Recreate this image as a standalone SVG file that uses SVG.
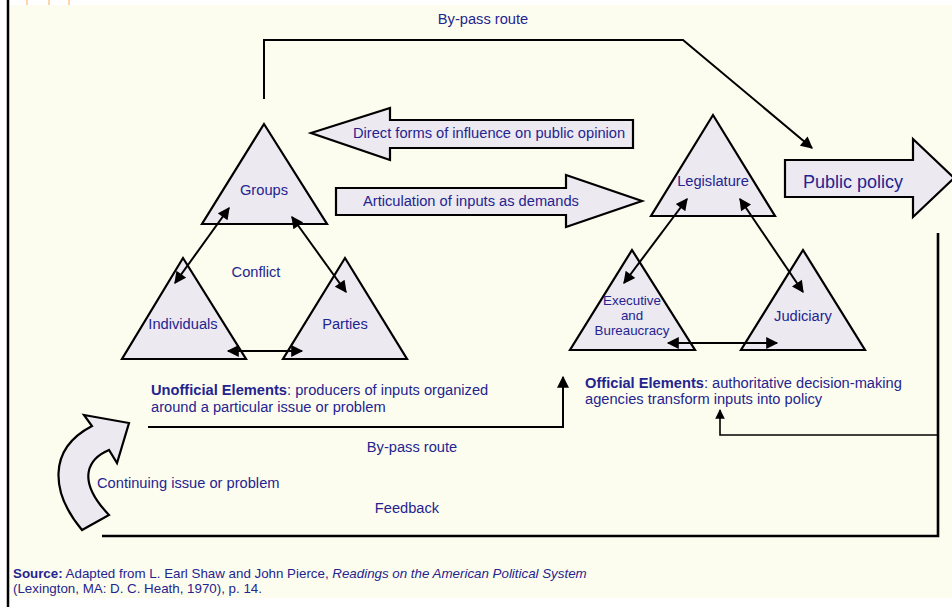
<svg xmlns="http://www.w3.org/2000/svg" width="952" height="607" viewBox="0 0 952 607">
  <defs>
    <style>
      .bg { fill: #FDFDEF; }
      .shape { fill: #ECE9F1; stroke: #000; stroke-width: 2.2; stroke-linejoin: miter; }
      .lbl { font-family: "Liberation Sans", Arial, sans-serif; font-size: 14.67px; fill: #24248F; }
      .mid { text-anchor: middle; }
      .small { font-size: 13.33px; }
      .src { font-family: "Liberation Sans", Arial, sans-serif; font-size: 13.33px; fill: #24248F; }
      .line { fill: none; stroke: #000; stroke-width: 2; }
      .thick { stroke-width: 2.6; }
      .thin { stroke-width: 1.6; }
    </style>
    <marker id="ah" viewBox="0 0 10 10" refX="9" refY="5" markerWidth="6.5" markerHeight="6" orient="auto-start-reverse" markerUnits="strokeWidth">
      <path d="M0,0 L10,5 L0,10 Z" fill="#000"/>
    </marker>
  </defs>

  <!-- page -->
  <rect x="0" y="0" width="952" height="607" fill="#FFFFFF"/>
  <rect class="bg" x="9" y="5" width="943" height="593"/>
  <line x1="27" y1="0" x2="27" y2="5" stroke="#FFC78F" stroke-width="1.5"/>
  <line x1="49" y1="0" x2="49" y2="5" stroke="#FFC78F" stroke-width="1.5"/>
  <line x1="69" y1="0" x2="69" y2="5" stroke="#FFC78F" stroke-width="1.5"/>
  <line x1="8" y1="0" x2="8" y2="607" stroke="#000" stroke-width="2.5"/>

  <!-- unofficial elements -->
  <g id="groups">
    <polygon class="shape" points="264,124 327,224 202,224"/>
    <text class="lbl mid" x="264" y="195">Groups</text>
  </g>
  <g id="individuals">
    <polygon class="shape" points="183,258 246,359 122,359"/>
    <text class="lbl mid" x="183" y="329">Individuals</text>
  </g>
  <g id="parties">
    <polygon class="shape" points="345,258 407,359 283,359"/>
    <text class="lbl mid" x="345" y="329">Parties</text>
  </g>
  <g id="conflict">
    <text class="lbl mid" x="256" y="277">Conflict</text>
  </g>

  <!-- official elements -->
  <g id="legislature">
    <polygon class="shape" points="713,115 775,216 651,216"/>
    <text class="lbl mid" x="713" y="186">Legislature</text>
  </g>
  <g id="executive">
    <polygon class="shape" points="632,250 695,350 570,350"/>
    <text class="lbl mid small" x="632" y="305">Executive</text>
    <text class="lbl mid small" x="632" y="320">and</text>
    <text class="lbl mid small" x="632" y="335">Bureaucracy</text>
  </g>
  <g id="judiciary">
    <polygon class="shape" points="803,250 865,350 741,350"/>
    <text class="lbl mid" x="803" y="321">Judiciary</text>
  </g>

  <!-- block arrows -->
  <g id="direct-forms">
    <polygon class="shape" points="311,133 390,108 390,120 633,120 633,148 390,148 390,160"/>
    <text class="lbl" x="353" y="138">Direct forms of influence on public opinion</text>
  </g>
  <g id="articulation">
    <polygon class="shape" points="336,188 566,188 566,175 642,201 566,227 566,215 336,215"/>
    <text class="lbl" x="363" y="206">Articulation of inputs as demands</text>
  </g>
  <g id="public-policy">
    <polygon class="shape" points="785,160 913,160 913,139 954,178 913,217 913,197 785,197"/>
    <text class="lbl" x="803" y="188" style="font-size:18px">Public policy</text>
  </g>
  <g id="continuing-issue">
    <path class="shape" stroke-width="3" d="M82,530 C52,494 46,450 92,426 L84,415 L129,423 L117,463 L109,450 C90,458 74,478 109,515 Z"/>
    <text class="lbl" x="97" y="488">Continuing issue or problem</text>
  </g>

  <!-- captions -->
  <g id="unofficial-caption">
    <text class="lbl" x="151" y="395"><tspan font-weight="bold">Unofficial Elements</tspan>: producers of inputs organized</text>
    <text class="lbl" x="151" y="412">around a particular issue or problem</text>
  </g>
  <g id="official-caption">
    <text class="lbl" x="585" y="388"><tspan font-weight="bold">Official Elements</tspan>: authoritative decision-making</text>
    <text class="lbl" x="585" y="404">agencies transform inputs into policy</text>
  </g>

  <!-- connectors -->
  <g id="connectors">
    <line class="line" x1="229" y1="208" x2="175" y2="283" marker-start="url(#ah)" marker-end="url(#ah)"/>
    <line class="line" x1="292" y1="217" x2="346" y2="292" marker-start="url(#ah)" marker-end="url(#ah)"/>
    <line class="line" x1="228" y1="351" x2="302" y2="351" marker-start="url(#ah)" marker-end="url(#ah)"/>

    <line class="line" x1="687" y1="199" x2="624" y2="283" marker-start="url(#ah)" marker-end="url(#ah)"/>
    <line class="line" x1="740" y1="199" x2="803" y2="292" marker-start="url(#ah)" marker-end="url(#ah)"/>
    <line class="line" x1="668" y1="343" x2="777" y2="343" marker-start="url(#ah)" marker-end="url(#ah)"/>

    <!-- upper by-pass route -->
    <polyline class="line" points="264,99 264,40 683,40 812,148" marker-end="url(#ah)"/>
    <!-- lower by-pass route -->
    <polyline class="line" points="148,427 563,427 563,377" marker-end="url(#ah)"/>
    <!-- feedback -->
    <polyline class="line thick" points="102,536 938,536 938,233"/>
    <polyline class="line thin" points="938,435 720,435 720,410" marker-end="url(#ah)"/>
  </g>

  <!-- route labels -->
  <text class="lbl mid" x="483" y="24">By-pass route</text>
  <text class="lbl mid" x="412" y="452">By-pass route</text>
  <text class="lbl mid" x="407" y="513">Feedback</text>

  <!-- source note -->
  <text class="src" x="13" y="578"><tspan font-weight="bold">Source:</tspan> Adapted from L. Earl Shaw and John Pierce, <tspan font-style="italic">Readings on the American Political System</tspan></text>
  <text class="src" x="13" y="593">(Lexington, MA: D. C. Heath, 1970), p. 14.</text>
</svg>
